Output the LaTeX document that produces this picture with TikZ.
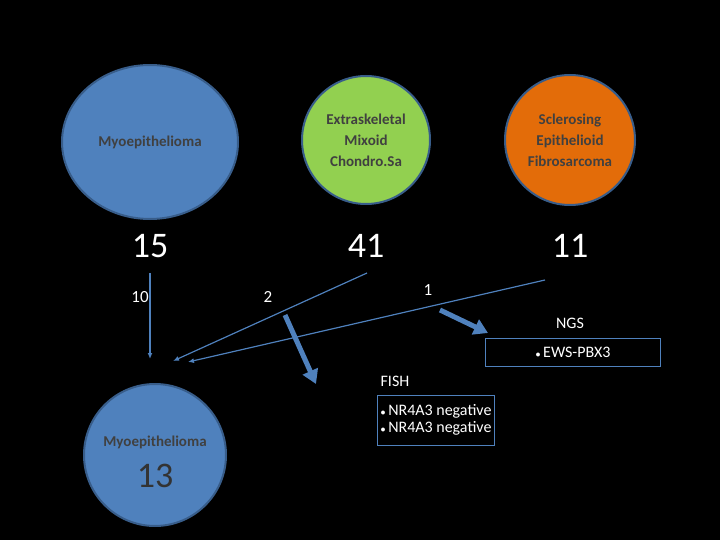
\documentclass[tikz,border=0pt]{standalone}
\usepackage{fontspec}
\setmainfont{Carlito}
\usetikzlibrary{arrows.meta,shapes.geometric}
\definecolor{cblue}{HTML}{4F81BD}
\definecolor{cedge}{HTML}{385D8A}
\definecolor{cgreen}{HTML}{92D050}
\definecolor{corange}{HTML}{E36C09}
\begin{document}
\begin{tikzpicture}[x=1pt,y=-1pt,
  blob/.style={draw=cedge,line width=2pt,ellipse,inner sep=0pt,align=center,text=black!75,font=\bfseries\fontsize{15}{21}\selectfont},
  lbl/.style={text=white,font=\fontsize{17}{20}\selectfont},
  big/.style={text=white,font=\fontsize{36}{40}\selectfont},
  thin/.style={draw=cblue,line width=1.2pt,-{Latex[length=6pt,width=5pt]}},
  thick/.style={draw=cblue,line width=5pt,-{Triangle[length=14pt,width=16pt]}},
  box/.style={draw=cblue,line width=1pt,align=left,text=white,font=\fontsize{16}{22}\selectfont}]
\fill[black] (0,0) rectangle (720,540);
\useasboundingbox (0,0) rectangle (720,540);
\node[blob,fill=cblue,minimum width=176,minimum height=154] (m1) at (150,142) {Myoepithelioma};
\node[blob,fill=cgreen,minimum width=128,minimum height=128] (g) at (366,140) {Extraskeletal\\Mixoid\\Chondro.Sa};
\node[blob,fill=corange,minimum width=130,minimum height=130] (o) at (570,140) {Sclerosing\\Epithelioid\\Fibrosarcoma};
\node[big] (n15) at (150,246) {15};
\node[big] (n41) at (366,246) {41};
\node[big] (n11) at (570,246) {11};
\node[lbl] (n10) at (140,297) {10};
\node[lbl] (n2) at (268,297) {2};
\node[lbl] (n1) at (428,290) {1};
\node[blob,fill=cblue,minimum width=142,minimum height=142] (m2) at (155,455) {};
\node[text=black!75,font=\bfseries\fontsize{15}{18}\selectfont] (m2t) at (155,442) {Myoepithelioma};
\node[text=black!80,font=\fontsize{36}{40}\selectfont] (m2n) at (155,476) {13};
\coordinate (s1) at (150,273);
\coordinate (t1) at (150,359);
\coordinate (s2) at (367,273);
\coordinate (t2) at (173,361);
\coordinate (s3) at (545,280);
\coordinate (t3) at (188,362);
\draw[thin] (s1) -- (t1);
\draw[thin] (s2) -- (t2);
\draw[thin] (s3) -- (t3);
\node[text=white,font=\fontsize{16}{18}\selectfont] (ngs) at (570,323) {NGS};
\node[box,minimum width=175,minimum height=28] (nb) at (573,352) {{\fontsize{10}{10}\selectfont$\bullet$}\,EWS-PBX3};
\node[text=white,font=\fontsize{16}{18}\selectfont] (fish) at (395,381) {FISH};
\node[box,minimum width=96,minimum height=50,inner sep=3pt] (fb) at (436,420) {{\fontsize{10}{10}\selectfont$\bullet$}\,NR4A3 negative\\[-5pt]{\fontsize{10}{10}\selectfont$\bullet$}\,NR4A3 negative};
\coordinate (a1) at (285,315);
\coordinate (b1) at (316,384);
\coordinate (a2) at (440,310);
\coordinate (b2) at (488,333);
\draw[thick] (a1) -- (b1);
\draw[thick] (a2) -- (b2);
\end{tikzpicture}
\end{document}
